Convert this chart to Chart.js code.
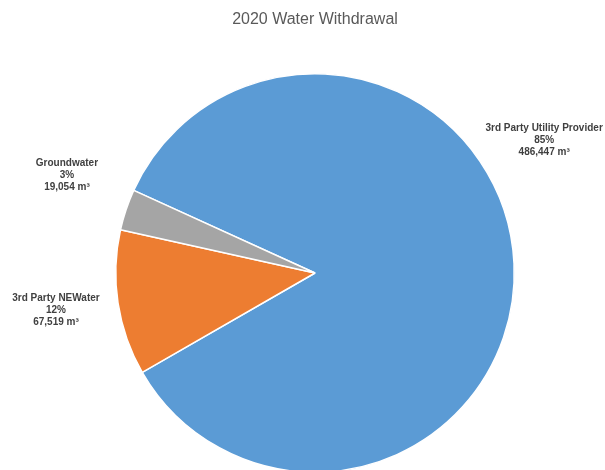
<!DOCTYPE html>
<html>
<head>
<meta charset="utf-8">
<script src="https://cdn.jsdelivr.net/npm/chart.js@4"></script>
<style>
  html, body { margin: 0; padding: 0; background: #ffffff; overflow: hidden; }
  #wrap { width: 605px; height: 470px; overflow: hidden; }
</style>
</head>
<body>
<div id="wrap"><canvas id="chart" width="605" height="480"></canvas></div>
<script>
const categories = ['3rd Party Utility Provider', '3rd Party NEWater', 'Groundwater'];
const volumes = [486447, 67519, 19054];
const percentLabels = ['85%', '12%', '3%'];
const sliceColors = ['#5B9BD5', '#ED7D31', '#A5A5A5'];

// where each label block sits, relative to the pie centre, in radii
const labelOffsets = [[1.15, -0.665], [-1.30, 0.185], [-1.245, -0.49]];

const pieLabels = {
    id: 'pieLabels',
    afterDatasetsDraw(chart) {
        const ctx = chart.ctx;
        const arcs = chart.getDatasetMeta(0).data;
        ctx.save();
        ctx.font = 'bold 10px "Liberation Sans", Arial, sans-serif';
        ctx.fillStyle = '#404040';
        ctx.textAlign = 'center';
        ctx.textBaseline = 'middle';
        arcs.forEach((arc, i) => {
            const cx = arc.x + labelOffsets[i][0] * arc.outerRadius;
            const cy = arc.y + labelOffsets[i][1] * arc.outerRadius;
            const lines = [categories[i], percentLabels[i], volumes[i].toLocaleString('en-US') + ' m³'];
            lines.forEach((line, k) => {
                ctx.fillText(line, cx, cy + (k - 1) * 12);
            });
        });
        ctx.restore();
    }
};

const config = {
    type: 'pie',
    data: {
        labels: categories,
        datasets: [
            {
                data: volumes,
                backgroundColor: sliceColors,
                borderColor: '#ffffff',
                borderWidth: 1.5
            }
        ]
    },
    options: {
        responsive: false,
        animation: false,
        rotation: -65.5,
        layout: {
            padding: { left: 115, right: 90, top: 0, bottom: 7 }
        },
        plugins: {
            legend: { display: false },
            tooltip: { enabled: false },
            title: {
                display: true,
                text: '2020 Water Withdrawal',
                color: '#595959',
                font: { family: '"Liberation Sans", Arial, sans-serif', size: 16, weight: 'normal' },
                padding: { top: 10, bottom: 43.8 }
            }
        }
    },
    plugins: [pieLabels]
};

const graph = new Chart(document.getElementById('chart'), config);
</script>
</body>
</html>
